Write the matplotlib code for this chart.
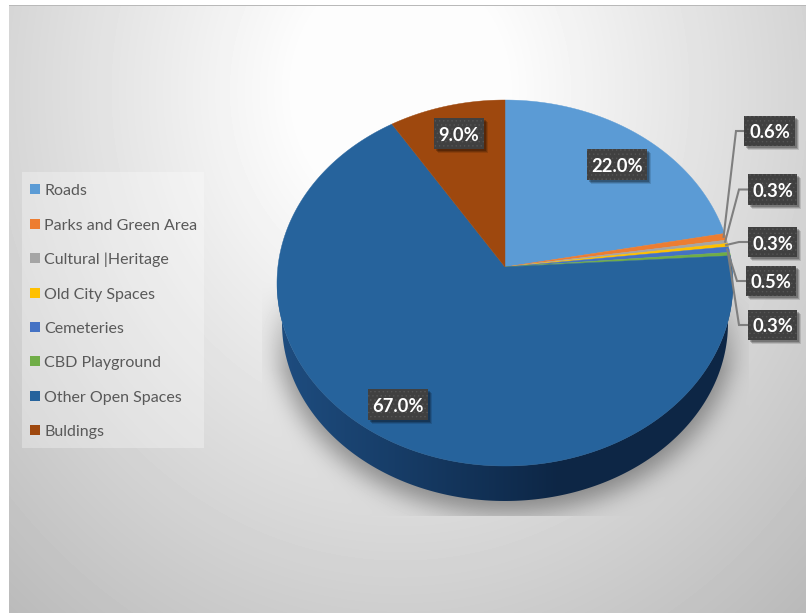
import numpy as np
import matplotlib
matplotlib.use('Agg')
import matplotlib.pyplot as plt
from matplotlib.patches import Polygon, Rectangle

# Land use shares
categories = ['Roads', 'Parks and Green Area', 'Cultural |Heritage', 'Old City Spaces',
              'Cemeteries', 'CBD Playground', 'Other Open Spaces', 'Buldings']
shares = [22.0, 0.6, 0.3, 0.3, 0.5, 0.3, 67.0, 9.0]
colors = ['#5b9bd5', '#ed7d31', '#a5a5a5', '#ffc000', '#4472c4', '#70ad47', '#26639c', '#9e480e']

W, H = 806, 613
plt.rcParams['font.family'] = ['Lato', 'DejaVu Sans']
plt.rcParams['hatch.linewidth'] = 0.5

fig = plt.figure(figsize=(W / 100, H / 100), dpi=100)
ax = fig.add_axes([0, 0, 1, 1])
ax.set_xlim(0, W)
ax.set_ylim(H, 0)
ax.axis('off')

# Pie geometry in pixels: top ellipse, apex and extruded rim
cx, cy, rx, ry = 505, 283, 228, 183
apex_x, apex_y = 505, 267
low_cy, low_rx, low_ry = 323, 223, 178


def ellipse_point(a):
    # a is the clockwise angle from the top; the tilt pushes the apex upward
    t = a - 0.087 * np.sin(a)
    return cx + rx * np.sin(t), cy - ry * np.cos(t)


yy, xx = np.mgrid[0:H, 0:W]

# Panel background, a soft radial grey with a wide pale centre
d = np.sqrt(((xx - 400) / 520) ** 2 + ((yy - 90) / 600) ** 2)
bg = 253 - 70 * np.clip(d - 0.2, 0, None)

# Blurred shadow under the pie, fading out upward and cut off by its bounding box
mask = ((xx - cx) / (low_rx + 6)) ** 2 + ((yy - (low_cy + 6)) / (low_ry + 6)) ** 2 <= 1
kernel = np.exp(-np.arange(-36, 37) ** 2 / (2 * 12.0 ** 2))
kernel /= kernel.sum()
blur = np.apply_along_axis(lambda r: np.convolve(r, kernel, mode='same'), 1, mask.astype(float))
blur = np.apply_along_axis(lambda c: np.convolve(c, kernel, mode='same'), 0, blur)
clip = (xx >= 262) & (xx <= 748) & (yy <= 515)
fade = np.clip((yy - 280) / 90, 0, 1)
bg = bg * (1 - 0.38 * blur * clip * fade)

bg[:, :9] = 255
bg[:5, :] = 255
bg[5, 9:] = 185
ax.imshow(bg, extent=(0, W, H, 0), cmap='gray', vmin=0, vmax=255, aspect='auto',
          interpolation='bilinear', zorder=0)

# Rim: lower half of the pie drawn in a dark horizontal gradient
arc = np.linspace(np.pi / 2 - 0.02, 3 * np.pi / 2 + 0.02, 200)
top_edge = np.column_stack([cx + rx * np.sin(arc), cy - ry * np.cos(arc)])
low_edge = np.column_stack([cx + low_rx * np.sin(arc), low_cy - low_ry * np.cos(arc)])
rim = Polygon(np.vstack([top_edge, low_edge[::-1]]), closed=True, transform=ax.transData,
              facecolor='none', edgecolor='none')
ax.add_patch(rim)
ramp = np.interp(np.arange(W), [277, 420, 560, 733], [0.0, 0.5, 1.0, 1.0])
rim_rgb = np.zeros((1, W, 3))
for i, (c0, c1) in enumerate(zip((0x1e, 0x4d, 0x80), (0x0d, 0x26, 0x45))):
    rim_rgb[0, :, i] = (c0 + (c1 - c0) * ramp) / 255
rim_img = ax.imshow(rim_rgb, extent=(0, W, H, 0), aspect='auto', zorder=1)
rim_img.set_clip_path(rim)

# Top face slices
total = sum(shares)
edges = np.cumsum([0] + shares) / total * 2 * np.pi
for i, color in enumerate(colors):
    angles = np.linspace(edges[i], edges[i + 1], max(3, int(shares[i] * 6)))
    pts = [(apex_x, apex_y)] + [ellipse_point(a) for a in angles]
    ax.add_patch(Polygon(pts, closed=True, facecolor=color, edgecolor=color, linewidth=0.3, zorder=2))

# Legend panel and entries
ax.add_patch(Rectangle((22, 172), 182, 276, facecolor='white', alpha=0.3, edgecolor='none', zorder=1))
legend_y = [189, 224, 258, 293, 327, 361, 396, 430]
for name, color, y in zip(categories, colors, legend_y):
    ax.add_patch(Rectangle((30, y - 5), 10, 10, facecolor=color, edgecolor='none', zorder=3))
    ax.text(44, y + 0.5, name, fontsize=11.5, color='#595959', va='center_baseline', ha='left', zorder=3)

# Data label boxes: left, top, right, bottom
label_boxes = [(587, 149, 647, 180), (744, 116, 795, 146), (748, 174, 797, 205), (748, 227, 797, 257),
               (746, 266, 796, 296), (748, 310, 797, 340), (368, 389, 428, 420), (434, 118, 484, 149)]
leader_elbows = {1: 736, 2: 739, 3: 739, 4: 737, 5: 739}

mids = (edges[:-1] + edges[1:]) / 2
for i, (x0, y0, x1, y1) in enumerate(label_boxes):
    if i in leader_elbows:
        sx, sy = ellipse_point(mids[i])
        ym = (y0 + y1) / 2
        ax.plot([sx - 2, leader_elbows[i], x0], [sy, ym, ym], color='#7f7f7f', lw=1.5, zorder=3,
                solid_joinstyle='miter')
    for off, alpha in ((3.5, 0.12), (2.5, 0.18), (1.5, 0.22)):
        ax.add_patch(Rectangle((x0 + off, y0 + off), x1 - x0, y1 - y0, facecolor='black', alpha=alpha,
                               edgecolor='none', zorder=4))
    ax.add_patch(Rectangle((x0, y0), x1 - x0, y1 - y0, facecolor='#404040', edgecolor='#555555',
                           hatch='....', linewidth=0, zorder=5))
    ax.text((x0 + x1) / 2, (y0 + y1) / 2 + 0.5, f'{shares[i]:.1f}%', color='white', fontsize=13.2,
            fontweight='bold', ha='center', va='center_baseline', zorder=6)

fig.savefig('out.png', dpi=100)
